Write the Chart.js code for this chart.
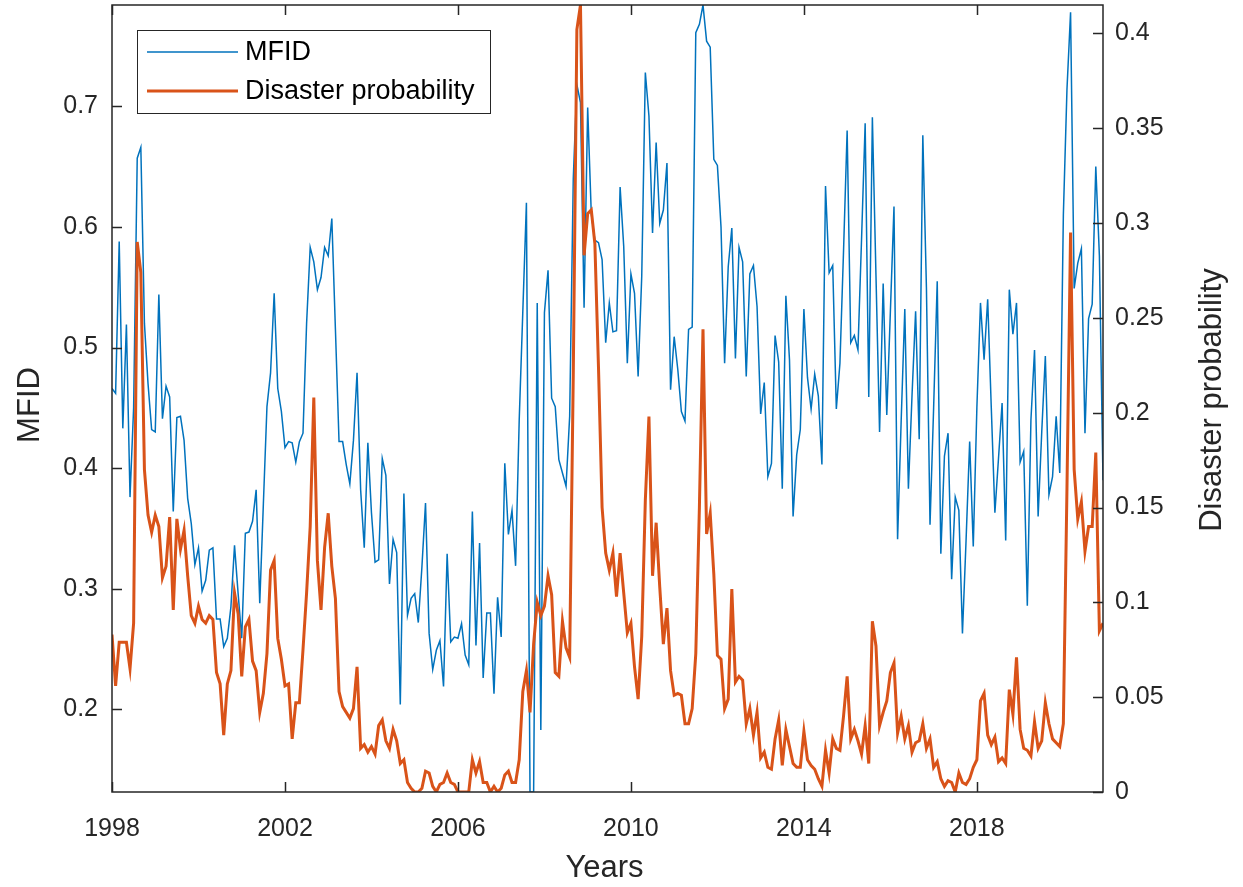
<!DOCTYPE html>
<html><head><meta charset="utf-8">
<script src="https://cdn.jsdelivr.net/npm/chart.js@4/dist/chart.umd.min.js"></script>
<style>html,body{margin:0;padding:0;background:#fff;}#wrap{width:1243px;height:887px;}</style>
</head><body><div id="wrap"><canvas id="c" width="1243" height="887"></canvas></div>
<script>
// Monthly data, Jan 1998 .. Dec 2020
const startYear = 1998;
const mfid = [
0.466,0.462,0.588,0.433,0.519,0.376,0.45,0.657,0.666,0.52,0.47,0.432,
0.430,0.544,0.441,0.468,0.459,0.364,0.442,0.443,0.423,0.375,0.354,0.320,
0.334,0.298,0.307,0.332,0.334,0.275,0.275,0.252,0.259,0.285,0.336,0.296,
0.259,0.346,0.347,0.356,0.382,0.288,0.37,0.451,0.479,0.545,0.466,0.447,
0.417,0.422,0.421,0.405,0.422,0.429,0.52,0.583,0.571,0.548,0.558,0.583,
0.576,0.607,0.515,0.422,0.422,0.403,0.387,0.423,0.479,0.382,0.334,0.421,
0.363,0.322,0.324,0.408,0.394,0.304,0.341,0.330,0.204,0.379,0.278,0.292,
0.296,0.272,0.318,0.371,0.263,0.233,0.249,0.257,0.219,0.329,0.256,0.260,
0.259,0.271,0.245,0.237,0.364,0.253,0.338,0.226,0.280,0.280,0.213,0.293,
0.260,0.404,0.345,0.365,0.319,0.44,0.53,0.620,0.1315,0.1315,0.537,0.183,
0.529,0.564,0.458,0.451,0.407,0.396,0.385,0.443,0.64,0.718,0.703,0.533,
0.699,0.611,0.589,0.587,0.573,0.504,0.537,0.513,0.514,0.633,0.584,0.487,
0.561,0.545,0.476,0.559,0.728,0.692,0.595,0.670,0.603,0.614,0.653,0.465,
0.509,0.482,0.447,0.439,0.515,0.517,0.761,0.768,0.784,0.754,0.749,0.656,
0.651,0.600,0.487,0.567,0.599,0.491,0.583,0.571,0.476,0.561,0.568,0.534,
0.445,0.471,0.393,0.404,0.510,0.488,0.383,0.543,0.490,0.360,0.411,0.432,
0.532,0.475,0.449,0.478,0.460,0.403,0.634,0.562,0.568,0.449,0.487,0.58,
0.680,0.504,0.510,0.498,0.59,0.686,0.459,0.691,0.56,0.430,0.553,0.444,
0.53,0.617,0.341,0.44,0.532,0.383,0.46,0.530,0.424,0.676,0.55,0.353,
0.45,0.555,0.329,0.410,0.429,0.308,0.376,0.365,0.263,0.34,0.422,0.335,
0.45,0.537,0.490,0.540,0.45,0.363,0.408,0.454,0.340,0.548,0.511,0.537,
0.405,0.414,0.286,0.44,0.498,0.360,0.43,0.493,0.378,0.393,0.443,0.396,
0.61,0.714,0.778,0.549,0.570,0.582,0.429,0.524,0.536,0.650,0.576,0.39
];
const disaster = [
0.083,0.056,0.079,0.079,0.079,0.065,0.089,0.290,0.274,0.170,0.146,0.137,
0.146,0.140,0.113,0.119,0.145,0.096,0.144,0.128,0.138,0.114,0.093,0.089,
0.098,0.091,0.089,0.093,0.091,0.063,0.057,0.030,0.057,0.064,0.105,0.094,
0.061,0.087,0.091,0.069,0.064,0.042,0.052,0.073,0.117,0.122,0.081,0.070,
0.056,0.057,0.028,0.047,0.047,0.075,0.105,0.140,0.208,0.122,0.096,0.129,
0.147,0.119,0.102,0.053,0.045,0.042,0.039,0.044,0.066,0.023,0.025,0.021,
0.024,0.020,0.035,0.038,0.027,0.023,0.033,0.027,0.015,0.017,0.005,0.002,
0,0,0.002,0.011,0.010,0.003,0,0.004,0.005,0.010,0.005,0.004,
0,0,0,0,0.017,0.010,0.016,0.005,0.005,0,0.003,0,
0.002,0.009,0.011,0.005,0.005,0.017,0.053,0.064,0.042,0.078,0.100,0.093,
0.098,0.114,0.104,0.063,0.061,0.090,0.076,0.071,0.22,0.402,0.415,0.283,
0.305,0.307,0.289,0.224,0.150,0.126,0.117,0.126,0.103,0.126,0.105,0.084,
0.089,0.066,0.049,0.082,0.154,0.198,0.114,0.142,0.108,0.078,0.097,0.064,
0.051,0.052,0.051,0.036,0.036,0.044,0.073,0.150,0.244,0.136,0.147,0.115,
0.072,0.070,0.044,0.049,0.107,0.058,0.061,0.059,0.036,0.044,0.030,0.042,
0.018,0.021,0.013,0.012,0.028,0.038,0.014,0.033,0.024,0.015,0.013,0.013,
0.032,0.017,0.014,0.012,0.007,0.003,0.022,0.010,0.028,0.023,0.022,0.04,
0.061,0.028,0.033,0.027,0.020,0.035,0.015,0.090,0.077,0.035,0.042,0.048,
0.063,0.068,0.031,0.040,0.028,0.035,0.021,0.026,0.027,0.036,0.023,0.028,
0.013,0.016,0.007,0.003,0.006,0.005,0,0.010,0.005,0.004,0.007,0.013,
0.017,0.048,0.052,0.030,0.025,0.029,0.016,0.018,0.015,0.054,0.041,0.071,
0.033,0.023,0.022,0.019,0.037,0.023,0.027,0.047,0.036,0.028,0.026,0.024,
0.036,0.16,0.295,0.17,0.144,0.153,0.127,0.140,0.140,0.179,0.085,0.089
];
const xTicks = [1998, 2002, 2006, 2010, 2014, 2018];
const leftTicks = [0.2, 0.3, 0.4, 0.5, 0.6, 0.7];
const rightTicks = [0, 0.05, 0.1, 0.15, 0.2, 0.25, 0.3, 0.35, 0.4];
const seriesNames = ['MFID', 'Disaster probability'];
const axisTitles = { x: 'Years', left: 'MFID', right: 'Disaster probability' };

const BLUE = '#0072BD', ORANGE = '#D95319', AX = '#262626';
const FONT = "'Liberation Sans', Arial, sans-serif";
const t = i => startYear + i / 12;
const mfidPts = mfid.map((v, i) => ({ x: t(i), y: v }));
const disPts = disaster.map((v, i) => ({ x: t(i), y: v }));

const noPad = s => { s.paddingTop = 0; s.paddingBottom = 0; s.paddingLeft = 0; s.paddingRight = 0; };

const framePlugin = {
  id: 'frame',
  afterDraw(chart) {
    const ctx = chart.ctx, a = chart.chartArea;
    const xs = chart.scales.x, yl = chart.scales.yL, yr = chart.scales.yR;
    ctx.save();
    ctx.strokeStyle = AX; ctx.lineWidth = 1.5;
    ctx.strokeRect(a.left, a.top, a.right - a.left, a.bottom - a.top);
    ctx.beginPath();
    xTicks.forEach(v => { const x = Math.round(xs.getPixelForValue(v)) + 0.5;
      ctx.moveTo(x, a.bottom); ctx.lineTo(x, a.bottom - 10);
      ctx.moveTo(x, a.top); ctx.lineTo(x, a.top + 10); });
    leftTicks.forEach(v => { const y = Math.round(yl.getPixelForValue(v)) + 0.5;
      ctx.moveTo(a.left, y); ctx.lineTo(a.left + 10, y); });
    rightTicks.forEach(v => { const y = Math.round(yr.getPixelForValue(v)) + 0.5;
      ctx.moveTo(a.right, y); ctx.lineTo(a.right - 10, y); });
    ctx.stroke();
    // legend
    const lx = 137, ly = 30, lw = 353, lh = 83;
    ctx.fillStyle = '#fff'; ctx.fillRect(lx, ly, lw, lh);
    ctx.lineWidth = 1; ctx.strokeStyle = AX;
    ctx.strokeRect(lx + 0.5, ly + 0.5, lw, lh);
    const rows = [[seriesNames[0], BLUE, 1.5, 52], [seriesNames[1], ORANGE, 3, 91]];
    ctx.font = '27px ' + FONT; ctx.textBaseline = 'middle'; ctx.textAlign = 'left';
    rows.forEach(([txt, col, w, y]) => {
      ctx.strokeStyle = col; ctx.lineWidth = w;
      ctx.beginPath(); ctx.moveTo(147, y); ctx.lineTo(238, y); ctx.stroke();
      ctx.fillStyle = '#000'; ctx.fillText(txt, 245, y + 1);
    });
    // axis titles
    ctx.fillStyle = AX; ctx.font = '31px ' + FONT; ctx.textAlign = 'center';
    ctx.textBaseline = 'middle';
    ctx.fillText(axisTitles.x, (a.left + a.right) / 2 - 3, 868);
    ctx.save(); ctx.translate(30, 405); ctx.rotate(-Math.PI / 2);
    ctx.fillText(axisTitles.left, 0, 0); ctx.restore();
    ctx.save(); ctx.translate(1212, 400); ctx.rotate(-Math.PI / 2);
    ctx.fillText(axisTitles.right, 0, 0); ctx.restore();
    ctx.restore();
  }
};

const tickFont = { size: 25, family: FONT };
new Chart(document.getElementById('c'), {
  type: 'line',
  data: { datasets: [
    { label: seriesNames[1], data: disPts, yAxisID: 'yR', borderColor: ORANGE, borderWidth: 3, pointRadius: 0, tension: 0, order: 0 },
    { label: seriesNames[0], data: mfidPts, yAxisID: 'yL', borderColor: BLUE, borderWidth: 1.5, pointRadius: 0, tension: 0, order: 1 }
  ]},
  options: {
    responsive: false, animation: false, devicePixelRatio: 1,
    layout: { padding: { left: 0, right: 0, top: 5, bottom: 0 } },
    plugins: { legend: { display: false }, tooltip: { enabled: false } },
    scales: {
      x: { type: 'linear', min: startYear, max: t(mfid.length - 1),
        grid: { display: false, drawTicks: false }, border: { display: false },
        afterBuildTicks: s => { s.ticks = xTicks.map(v => ({ value: v })); },
        afterFit: s => { s.height = 95; noPad(s); },
        ticks: { padding: 22, color: AX, font: tickFont, maxRotation: 0, callback: v => String(v) } },
      yL: { type: 'linear', position: 'left', min: 0.1315, max: 0.784,
        grid: { display: false, drawTicks: false }, border: { display: false },
        afterBuildTicks: s => { s.ticks = leftTicks.map(v => ({ value: v })); },
        afterFit: s => { s.width = 112; noPad(s); },
        ticks: { padding: 14, color: AX, font: tickFont, callback: v => v.toFixed(1) } },
      yR: { type: 'linear', position: 'right', min: 0, max: 0.415,
        grid: { display: false, drawTicks: false }, border: { display: false },
        afterBuildTicks: s => { s.ticks = rightTicks.map(v => ({ value: v })); },
        afterFit: s => { s.width = 140; noPad(s); },
        ticks: { padding: 12, color: AX, font: tickFont, callback: v => v === 0 ? '0' : String(+v.toFixed(2)) } }
    }
  },
  plugins: [framePlugin]
});
</script></body></html>
